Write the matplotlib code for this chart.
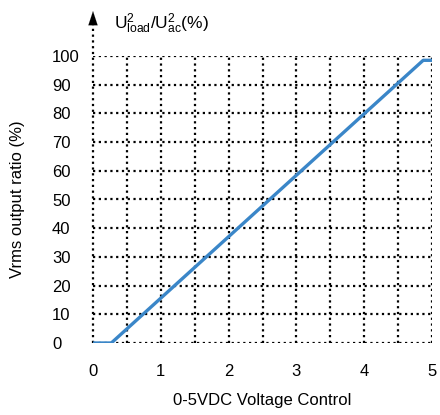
import matplotlib.pyplot as plt

plt.rcParams['font.family'] = ['Liberation Sans', 'DejaVu Sans']
plt.rcParams['mathtext.fontset'] = 'custom'
plt.rcParams['mathtext.rm'] = 'Liberation Sans'
plt.rcParams['mathtext.it'] = 'Liberation Sans'

# control voltage (V) vs output ratio (%)
volts = [0, 0.27, 4.87, 5.0]
ratio = [0, 0, 98.5, 98.5]
xticks = [0, 1, 2, 3, 4, 5]
yticks = [0, 10, 20, 30, 40, 50, 60, 70, 80, 90, 100]

fig = plt.figure(figsize=(4.4, 4.15), dpi=100)
ax = fig.add_axes([93 / 440, 72 / 415, 339 / 440, 287 / 415])
ax.set_xlim(0, 5)
ax.set_ylim(0, 100)

# dotted grid every 0.5 V / 10 %
for gx in [i * 0.5 for i in range(1, 11)]:
    ax.axvline(gx, color='black', ls=(0, (1, 1.6)), lw=1.6, zorder=1)
for gy in yticks:
    ax.axhline(gy, color='black', ls=(0, (1, 1.6)), lw=1.6, zorder=1)

ax.plot(volts, ratio, color='#3a86c8', lw=2.4, zorder=3, solid_capstyle='butt')

for s in ax.spines.values():
    s.set_visible(False)
ax.tick_params(length=0, labelsize=12)
ax.tick_params(axis='x', pad=15)
ax.tick_params(axis='y', pad=29.5)
ax.set_xticks(xticks)
ax.set_yticks(yticks)
for lab in ax.get_yticklabels():
    lab.set_horizontalalignment('left')

# left axis: dotted line with arrow head on top
ax.plot([0, 0], [0, 111.5], color='black', ls=(0, (1, 1.6)), lw=1.6,
        clip_on=False, zorder=2)
ax.annotate('', xy=(0, 116.6), xytext=(0, 111.3), xycoords='data',
            arrowprops=dict(arrowstyle='-|>,head_width=0.33,head_length=1.0',
                            color='black', lw=0.1), annotation_clip=False)

ax.text(0.31, 111.2, r'$\mathregular{U^{2}_{load}/U^{2}_{ac}(\%)}$',
        fontsize=12.5, va='center', ha='left', clip_on=False)
ax.set_xlabel('0-5VDC Voltage Control', fontsize=12, labelpad=10)
ax.set_ylabel('Vrms output ratio (%)', fontsize=12)
ax.yaxis.set_label_coords(-68 / 339, 0.5)

fig.savefig('out.png', dpi=100)
